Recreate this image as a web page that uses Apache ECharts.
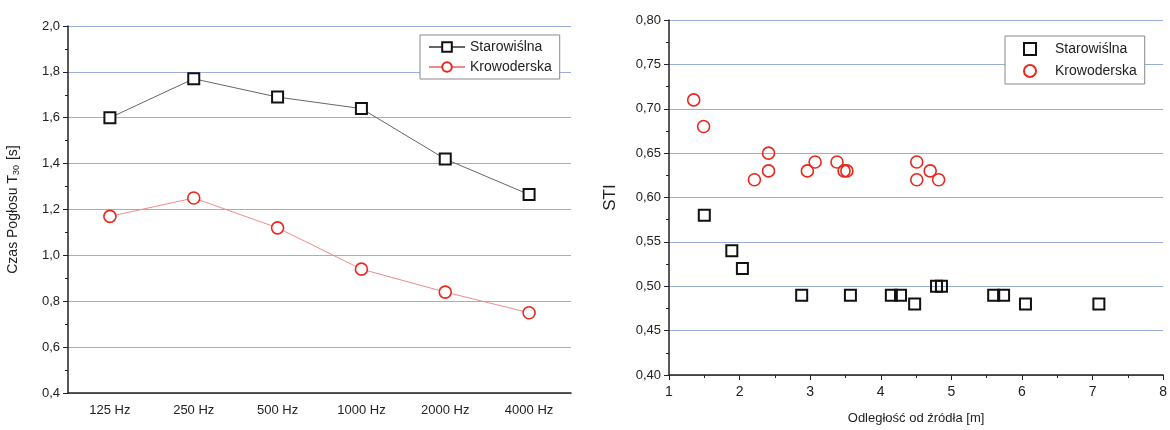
<!DOCTYPE html>
<html>
<head>
<meta charset="utf-8">
<script src="https://cdn.jsdelivr.net/npm/echarts@6/dist/echarts.min.js"></script>
<style>
  html, body { margin: 0; padding: 0; background: #fff; }
  #chart { width: 1170px; height: 430px; }
</style>
</head>
<body>
<div id="chart"></div>
<script>
// czas pogłosu T30 w pasmach oktawowych
var freqLabels = ['125 Hz', '250 Hz', '500 Hz', '1000 Hz', '2000 Hz', '4000 Hz'];
var t30Starowislna = [1.60, 1.77, 1.69, 1.64, 1.42, 1.265];
var t30Krowoderska = [1.17, 1.25, 1.12, 0.94, 0.84, 0.75];

// STI w funkcji odległości od źródła [m, STI]
var stiStarowislna = [
  [1.50, 0.58], [1.89, 0.54], [2.04, 0.52], [2.88, 0.49], [3.57, 0.49],
  [4.15, 0.49], [4.28, 0.49], [4.48, 0.48], [4.79, 0.50], [4.86, 0.50],
  [5.60, 0.49], [5.74, 0.49], [6.05, 0.48], [7.09, 0.48]
];
var stiKrowoderska = [
  [1.35, 0.71], [1.49, 0.68], [2.21, 0.62], [2.41, 0.65], [2.41, 0.63],
  [2.96, 0.63], [3.07, 0.64], [3.38, 0.64], [3.48, 0.63], [3.52, 0.63],
  [4.51, 0.64], [4.51, 0.62], [4.70, 0.63], [4.82, 0.62]
];

var txt = '#222';
var gridCol = '#9aaed8';
var font = 'Liberation Sans, Arial, sans-serif';

var myChart = echarts.init(document.getElementById('chart'));

var comma = function (d) {
  return function (v) { return v.toFixed(d).replace('.', ','); };
};

myChart.setOption({
  animation: false,
  textStyle: { fontFamily: font, color: txt },
  grid: [
    { left: 68, top: 26, right: 599, bottom: 37 },
    { left: 669, top: 20, right: 4, bottom: 55 }
  ],
  legend: [
    {
      data: ['Starowiślna', 'Krowoderska'],
      orient: 'vertical',
      left: 420, top: 35,
      padding: [5, 8, 5, 8],
      itemGap: 6,
      itemWidth: 36, itemHeight: 12,
      borderColor: '#888', borderWidth: 1,
      backgroundColor: '#fff',
      textStyle: { fontSize: 14, color: txt, fontFamily: font }
    },
    {
      data: ['Starowiślna STI', 'Krowoderska STI'],
      orient: 'vertical',
      left: 1005, top: 36,
      padding: [6, 8, 6, 18],
      itemGap: 8,
      itemWidth: 12, itemHeight: 12,
      borderColor: '#888', borderWidth: 1,
      backgroundColor: '#fff',
      formatter: function (n) { return n.replace(' STI', ''); },
      textStyle: { fontSize: 14, color: txt, fontFamily: font, padding: [0, 0, 0, 14] }
    }
  ],
  xAxis: [
    {
      type: 'category', gridIndex: 0, data: freqLabels,
      axisLine: { lineStyle: { color: txt, width: 1.5 } },
      axisTick: { length: 5, lineStyle: { color: txt } },
      axisLabel: { color: txt, fontSize: 13, margin: 11 },
      splitLine: { show: false }
    },
    {
      type: 'category', gridIndex: 0, data: freqLabels,
      axisLine: { show: false },
      axisTick: { alignWithLabel: true, length: 5, lineStyle: { color: txt } },
      axisLabel: { show: false },
      splitLine: { show: false }
    },
    {
      type: 'value', gridIndex: 1, min: 1, max: 8, interval: 1,
      name: 'Odległość od źródła [m]', nameLocation: 'middle', nameGap: 37,
      nameTextStyle: { fontSize: 13, color: txt },
      axisLine: { lineStyle: { color: txt, width: 1.5 } },
      axisTick: { length: 5, lineStyle: { color: txt } },
      minorTick: { show: true, splitNumber: 2, length: 3, lineStyle: { color: txt } },
      axisLabel: { color: txt, fontSize: 14, margin: 10 },
      splitLine: { show: false }
    }
  ],
  yAxis: [
    {
      type: 'value', gridIndex: 0, min: 0.4, max: 2.0, interval: 0.2,
      name: '{a|Czas Pogłosu T}{s|30}{a| [s]}',
      nameLocation: 'middle', nameGap: 47,
      nameTextStyle: {
        color: txt,
        rich: {
          a: { fontSize: 14, color: txt, fontFamily: font },
          s: { fontSize: 9, color: txt, fontFamily: font, verticalAlign: 'bottom', padding: [6, 1, 0, 0] }
        }
      },
      axisLine: { show: true, lineStyle: { color: txt, width: 1.5 } },
      axisTick: { show: true, length: 5, lineStyle: { color: txt } },
      minorTick: { show: true, splitNumber: 2, length: 3, lineStyle: { color: txt } },
      axisLabel: { color: txt, fontSize: 13, margin: 8, formatter: comma(1) },
      splitLine: { show: true, lineStyle: { color: gridCol, width: 1 } }
    },
    {
      type: 'value', gridIndex: 1, min: 0.4, max: 0.8, interval: 0.05,
      name: 'STI', nameLocation: 'middle', nameGap: 50,
      nameTextStyle: { fontSize: 17, color: txt },
      axisLine: { show: true, lineStyle: { color: txt, width: 1.5 } },
      axisTick: { show: true, length: 5, lineStyle: { color: txt } },
      minorTick: { show: true, splitNumber: 2, length: 3, lineStyle: { color: txt } },
      axisLabel: { color: txt, fontSize: 13, margin: 8, formatter: comma(2) },
      splitLine: { show: true, lineStyle: { color: gridCol, width: 1 } }
    }
  ],
  series: [
    {
      name: 'Starowiślna', type: 'line', xAxisIndex: 0, yAxisIndex: 0,
      data: t30Starowislna,
      symbol: 'rect', symbolSize: 11, z: 3,
      lineStyle: { color: '#666', width: 1 },
      itemStyle: { color: '#fff', borderColor: '#111', borderWidth: 2 }
    },
    {
      name: 'Krowoderska', type: 'line', xAxisIndex: 0, yAxisIndex: 0,
      data: t30Krowoderska,
      symbol: 'circle', symbolSize: 12, z: 3,
      lineStyle: { color: '#f08a8a', width: 1 },
      itemStyle: { color: '#fff', borderColor: '#e8281e', borderWidth: 1.6 }
    },
    {
      name: 'Starowiślna STI', type: 'scatter', xAxisIndex: 2, yAxisIndex: 1,
      data: stiStarowislna,
      symbol: 'rect', symbolSize: 11,
      itemStyle: { color: 'rgba(255,255,255,0)', borderColor: '#111', borderWidth: 2, opacity: 1 }
    },
    {
      name: 'Krowoderska STI', type: 'scatter', xAxisIndex: 2, yAxisIndex: 1,
      data: stiKrowoderska,
      symbol: 'circle', symbolSize: 12,
      itemStyle: { color: 'rgba(255,255,255,0)', borderColor: '#e8281e', borderWidth: 1.6, opacity: 1 }
    }
  ]
});
</script>
</body>
</html>
